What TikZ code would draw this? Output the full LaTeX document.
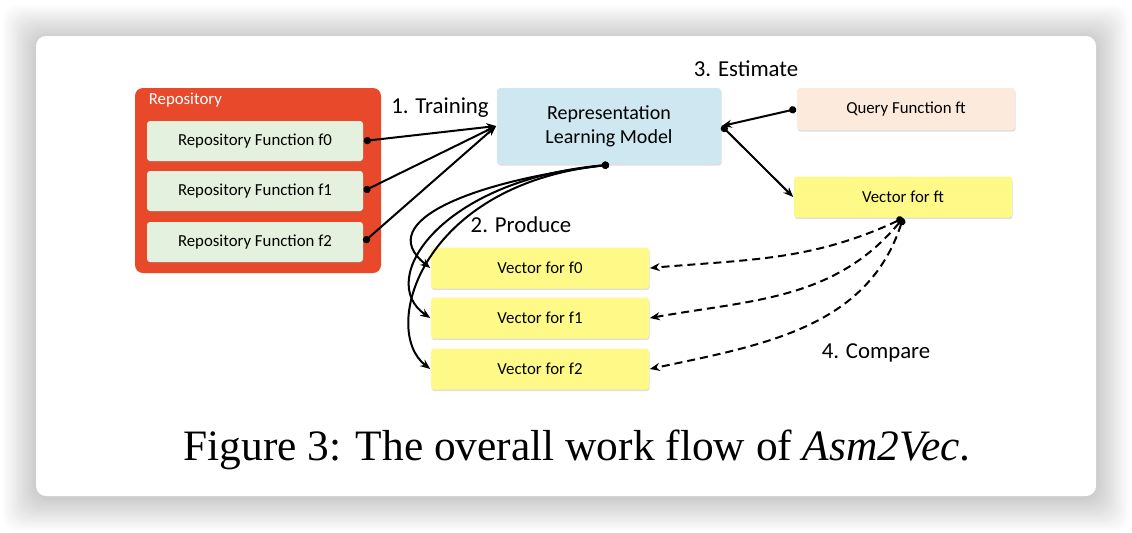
\documentclass[tikz,border=0pt]{standalone}
\usepackage{fontspec}
\setmainfont{Carlito}
\newfontfamily\capfont{Liberation Serif}
\usetikzlibrary{arrows.meta}
\usetikzlibrary{shadows}

\definecolor{repored}{RGB}{231,73,42}
\definecolor{funcgreen}{RGB}{229,241,223}
\definecolor{modelblue}{RGB}{206,231,241}
\definecolor{queryorange}{RGB}{252,234,221}
\definecolor{vecyellow}{RGB}{255,250,135}

\begin{document}
\begin{tikzpicture}[x=0.5pt, y=-0.5pt, thick,
    box/.style = {rounded corners=1.5pt, inner sep=0pt,
        drop shadow={shadow xshift=0.3pt, shadow yshift=-0.8pt, opacity=0.25}},
    func/.style = {box, fill=funcgreen, minimum width=108pt, minimum height=20pt,
        font=\fontsize{8.4}{10}\selectfont},
    vec/.style = {box, fill=vecyellow, minimum width=109pt, minimum height=20.5pt,
        font=\fontsize{8.4}{10}\selectfont},
    steplabel/.style = {font=\fontsize{11.4}{13}\selectfont},
    conn/.style = {line width=1pt, {Circle[length=3.6pt]}-{Stealth[length=5pt, width=4pt]}},
    dconn/.style = {conn, dash pattern=on 4pt off 2.5pt}]
    \useasboundingbox (0,0) rectangle (1132,532);

    % Card and its shadow
    \foreach \i in {30,29,...,1} {
        \pgfmathsetmacro{\shade}{0.65*(31-\i)}
        \fill[black!\shade, rounded corners=8pt]
            ({36-\i*1.1},{36-\i*1.1+2}) rectangle ({1096+\i*1.1},{496+\i*1.1+2});
    }
    \fill[white, rounded corners=5pt] (36,36) rectangle (1096,496);

    % Nodes
    \node[fill=repored, rounded corners=4pt, minimum width=123pt, minimum height=92.5pt,
        inner sep=0pt] (repo) at (258,180.5) {};
    \node[anchor=west, text=white, inner sep=0pt, font=\fontsize{8.4}{10}\selectfont] (repolabel) at (148,100) {Repository};

    \node[func] (rf0) at (255,141) {Repository Function f0};
    \node[func] (rf1) at (255,191) {Repository Function f1};
    \node[func] (rf2) at (255,242) {Repository Function f2};

    \node[box, fill=modelblue, minimum width=112pt, minimum height=38pt, align=center,
        font=\fontsize{10}{12}\selectfont] (model) at (609,126) {Representation\\Learning Model};

    \node[box, fill=queryorange, minimum width=109pt, minimum height=21pt,
        font=\fontsize{8.4}{10}\selectfont] (query) at (906,109) {Query Function ft};
    \node[vec] (vft) at (903,197) {Vector for ft};

    \node[vec] (v0) at (540,268) {Vector for f0};
    \node[vec] (v1) at (540,318) {Vector for f1};
    \node[vec] (v2) at (540,369) {Vector for f2};

    \node[steplabel] (train) at (440,108) {1. Training};
    \node[steplabel] (estimate) at (746,69) {3. Estimate};
    \node[steplabel] (produce) at (521,225) {2. Produce};
    \node[steplabel] (compare) at (876,353) {4. Compare};

    \node[font=\capfont\fontsize{21.7}{26}\selectfont] (caption) at (577,450)
        {Figure 3: The overall work flow of \textit{Asm2Vec}.};

    % Edges
    \draw[conn] (rf0.east) -- (model.west);
    \draw[conn] (rf1.east) -- (model.west);
    \draw[conn] (rf2.east) -- (model.west);

    \draw[conn] (query.west) -- (model.east);
    \draw[conn] (model.east) -- (vft.west);

    \draw[conn] (model.south) .. controls (480,180) and (370,220) .. (v0.west);
    \draw[conn] (model.south) .. controls (440,180) and (375,280) .. (v1.west);
    \draw[conn] (model.south) .. controls (420,185) and (380,330) .. (v2.west);

    \draw[dconn] (vft.south) to[out=205, in=5] (v0.east);
    \draw[dconn] (vft.south) to[out=230, in=10] (v1.east);
    \draw[dconn] (vft.south) to[out=252, in=12] (v2.east);

\end{tikzpicture}
\end{document}
